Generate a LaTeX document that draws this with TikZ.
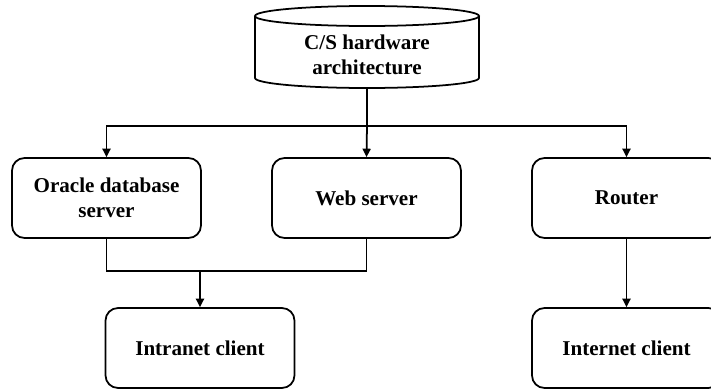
\documentclass[tikz,border=0pt]{standalone}
\usepackage{fontspec}
\setmainfont{Liberation Serif}
\usetikzlibrary{arrows.meta}
\begin{document}
\begin{tikzpicture}[x=0.02cm, y=-0.02cm, line width=1pt,
  box/.style={draw, rounded corners=0.25cm, minimum width=3.78cm, minimum height=1.6cm, align=center},
  arr/.style={-{Triangle[length=4.8pt,width=4.6pt]}},
  font=\bfseries\fontsize{12}{14.2}\selectfont]
\clip (0,0) rectangle (711,389);
% cylinder
\draw (255,16) -- (255,78) arc[start angle=180, end angle=0, x radius=112, y radius=10] -- (479,16);
\draw (367,16) ellipse[x radius=112, y radius=10];
\node[align=center] (cs) at (367,55) {C/S hardware\\architecture};
\coordinate (csb) at (367,88);
\coordinate (bus) at (367,126);
% boxes
\node[box] (oracle) at (106.5,198) {Oracle database\\server};
\node[box] (web) at (366.5,198) {Web server};
\node[box] (router) at (626.5,198) {Router};
\node[box] (intranet) at (200,348) {Intranet client};
\node[box] (internet) at (626.5,348) {Internet client};
% links
\draw (csb) -- (bus);
\draw[arr] (bus) -| (oracle.north);
\draw[arr] (bus) -- (web.north);
\draw[arr] (bus) -| (router.north);
\coordinate (join) at (200,271);
\draw (oracle.south) -- (oracle.south |- join) -- (web.south |- join) -- (web.south);
\draw[arr] (join) -- (intranet.north);
\draw[arr] (router.south) -- (internet.north);
\end{tikzpicture}
\end{document}
